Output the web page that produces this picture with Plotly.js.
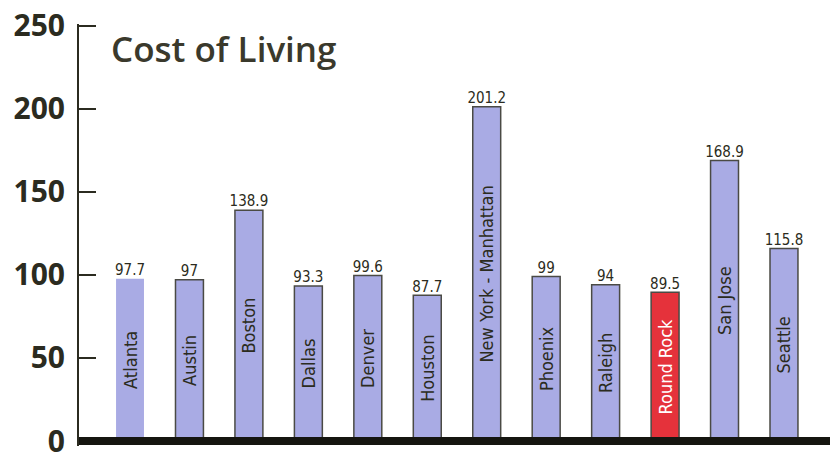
<!DOCTYPE html>
<html>
<head>
<meta charset="utf-8">
<script src="https://cdn.plot.ly/plotly-3.0.1.min.js"></script>
<style>html,body{margin:0;padding:0;background:#fff;}#chart{width:830px;height:454px;}</style>
</head>
<body>
<div id="chart"></div>
<script>
// Data
var cities = ["Atlanta", "Austin", "Boston", "Dallas", "Denver", "Houston",
  "New York - Manhattan", "Phoenix", "Raleigh", "Round Rock", "San Jose", "Seattle"];
var costIndex = [97.7, 97, 138.9, 93.3, 99.6, 87.7, 201.2, 99, 94, 89.5, 168.9, 115.8];
var valueLabels = ["97.7", "97", "138.9", "93.3", "99.6", "87.7", "201.2", "99", "94", "89.5", "168.9", "115.8"];
var yTicks = [0, 50, 100, 150, 200, 250];
var highlight = "Round Rock";
var noOutline = "Atlanta";

var narrow = "Liberation Sans Narrow, DejaVu Sans Condensed, Roboto Condensed, Arial Narrow, sans-serif";
var ink = "#2b2b20";
var lavender = "#a9abe4";
var red = "#e5323b";

var xIdx = cities.map(function(c, i){ return i; });

var bars = {
  type: "bar",
  x: xIdx,
  y: costIndex,
  width: 0.47,
  text: cities,
  textposition: "inside",
  insidetextanchor: "middle",
  textangle: -90,
  constraintext: "none",
  insidetextfont: {
    family: narrow, size: 18,
    color: cities.map(function(c){ return c === highlight ? "#ffffff" : ink; })
  },
  marker: {
    color: cities.map(function(c){ return c === highlight ? red : lavender; }),
    line: {
      color: "#4a4a44",
      width: cities.map(function(c){ return c === noOutline ? 0 : 1.5; })
    }
  },
  hoverinfo: "skip",
  showlegend: false
};

var labels = {
  type: "scatter",
  mode: "text",
  x: xIdx,
  y: costIndex,
  text: valueLabels,
  textposition: "top center",
  textfont: { family: narrow, size: 15, color: ink },
  cliponaxis: false,
  hoverinfo: "skip",
  showlegend: false
};

var layout = {
  width: 830, height: 454,
  margin: { l: 79, r: 0, t: 24, b: 8, pad: 0 },
  paper_bgcolor: "#ffffff",
  plot_bgcolor: "#ffffff",
  title: {
    text: "Cost of Living",
    font: { family: "Open Sans, sans-serif", size: 35, weight: 600, color: "#3a392c" },
    x: 0.0426, xref: "paper", xanchor: "left",
    y: 0.89, yref: "container", yanchor: "middle"
  },
  xaxis: {
    range: [-0.858, 11.774],
    showticklabels: false, ticks: "", showgrid: false, zeroline: false, showline: false,
    fixedrange: true
  },
  yaxis: {
    range: [-3, 251],
    tickmode: "array",
    tickvals: yTicks,
    ticktext: yTicks.map(String),
    ticks: "inside", ticklen: 17, tickwidth: 2, tickcolor: ink,
    showline: true, linewidth: 2, linecolor: ink,
    showgrid: false, zeroline: false,
    tickfont: { family: "Open Sans, sans-serif", size: 30, weight: 700, color: ink },
    ticklabelstandoff: 6,
    ticklabeloverflow: "allow",
    fixedrange: true
  },
  shapes: [{
    type: "line", xref: "paper", yref: "y",
    x0: 0, x1: 1, y0: 0, y1: 0,
    line: { color: "#151510", width: 8 },
    layer: "above"
  }],
  bargap: 0.5
};

Plotly.newPlot("chart", [bars, labels], layout, { displayModeBar: false });
</script>
</body>
</html>
